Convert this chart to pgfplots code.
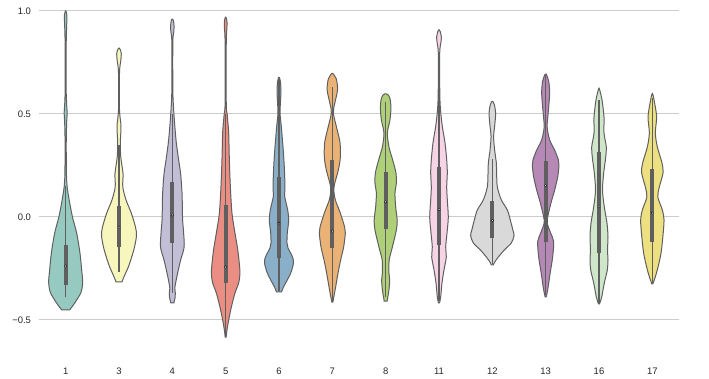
\documentclass[border=0pt]{standalone}
\usepackage{fontspec}
\setmainfont{Liberation Sans}
\usepackage{pgfplots}
\usepackage{pgfplotstable}
\pgfplotsset{compat=1.18}

\definecolor{c1}{RGB}{150,202,193}
\definecolor{c2}{RGB}{246,246,189}
\definecolor{c3}{RGB}{193,190,214}
\definecolor{c4}{RGB}{234,142,131}
\definecolor{c5}{RGB}{138,175,201}
\definecolor{c6}{RGB}{234,179,117}
\definecolor{c7}{RGB}{175,207,120}
\definecolor{c8}{RGB}{246,211,229}
\definecolor{c9}{RGB}{217,217,217}
\definecolor{c10}{RGB}{181,136,182}
\definecolor{c11}{RGB}{207,230,202}
\definecolor{c12}{RGB}{237,224,129}
\definecolor{vgray}{RGB}{95,95,95}
\definecolor{gridgray}{RGB}{204,204,204}
\definecolor{labgray}{RGB}{38,38,38}

% violin profiles: y value, half-width (in pixels of the reference, 53.33 px = 1 category)
\pgfplotstableread{
y w
-0.451 4
-0.425 8
-0.403 11
-0.364 15.5
-0.316 17
-0.257 16
-0.175 14.3
-0.078 11
0.0 6.8
0.083 3.5
0.146 1.5
0.204 0.8
0.300 0.6
0.374 0.6
0.46 1.0
0.505 1.5
0.544 1.0
0.62 0.5
0.80 0.5
0.86 0.6
0.93 1.0
0.975 1.3
1.0 0.3
}\vA
\pgfplotstableread{
y w
-0.315 3
-0.29 5
-0.243 9.3
-0.194 12.7
-0.146 15.5
-0.09 17.5
-0.049 16.5
0.019 12.3
0.083 7
0.146 3.8
0.21 4
0.29 1.8
0.36 1.3
0.44 2
0.52 0.5
0.70 0.5
0.76 1.8
0.79 2.3
0.81 1.5
0.82 0.3
}\vB
\pgfplotstableread{
y w
-0.417 1.5
-0.39 2.8
-0.369 3
-0.345 2.5
-0.32 3.3
-0.272 5.3
-0.209 8.3
-0.146 11.8
-0.078 11.3
-0.015 10.3
0.05 10
0.116 9.7
0.21 8.3
0.277 6.3
0.36 4
0.44 2.5
0.53 1.2
0.62 0.5
0.85 0.5
0.90 1.5
0.93 1.7
0.955 1.0
0.96 0.3
}\vC
\pgfplotstableread{
y w
-0.583 0.5
-0.549 1.3
-0.5 3
-0.437 5.7
-0.369 9.3
-0.32 13
-0.272 14.3
-0.209 13.3
-0.146 11.7
-0.078 9.3
0.019 6.3
0.146 4.7
0.277 3.7
0.41 3
0.47 2
0.5 1.5
0.55 0.6
0.85 0.6
0.92 1.3
0.95 1.3
0.97 0.3
}\vD
\pgfplotstableread{
y w
-0.364 2.5
-0.34 4.5
-0.32 6.7
-0.272 11.7
-0.223 14.5
-0.194 13.5
-0.15 9
-0.126 8
-0.078 8.3
-0.015 9.7
0.034 8.7
0.1 5.7
0.146 6
0.243 5.3
0.34 4
0.44 2.3
0.505 1.0
0.56 1.5
0.617 2
0.66 1.3
0.678 0.3
}\vE
\pgfplotstableread{
y w
-0.413 0.5
-0.393 1.3
-0.34 3.3
-0.272 5.7
-0.209 8.3
-0.146 11.3
-0.078 13
-0.049 12.3
0.019 8
0.083 3
0.131 1.5
0.165 2.5
0.228 6
0.29 8
0.36 7.7
0.42 5
0.505 1.0
0.553 2.5
0.617 5.2
0.67 4
0.697 0.5
}\vF
\pgfplotstableread{
y w
-0.408 1.5
-0.393 2
-0.354 3.3
-0.306 4
-0.272 3.3
-0.209 3.5
-0.146 6.7
-0.063 10.7
-0.015 11.5
0.049 10
0.116 9.3
0.165 10.7
0.214 10.3
0.277 7
0.34 3.3
0.408 1.7
0.471 4.3
0.534 5.3
0.575 4.3
0.592 2.6
0.598 0.8
}\vG
\pgfplotstableread{
y w
-0.417 0.5
-0.388 1.7
-0.32 3
-0.257 5
-0.194 7.3
-0.146 6.7
-0.063 8.3
0.0 9.3
0.083 8.3
0.146 7.7
0.214 8.3
0.277 7.7
0.36 6
0.44 3.3
0.52 1.5
0.6 0.8
0.795 0.7
0.85 2.0
0.875 2.3
0.9 1.2
0.908 0.3
}\vH
\pgfplotstableread{
y w
-0.233 1
-0.218 2.5
-0.194 6
-0.16 12
-0.126 19
-0.09 21.7
-0.063 20.5
-0.015 18
0.034 15
0.083 9
0.146 5
0.214 4.3
0.262 4
0.325 2.3
0.39 1.3
0.45 2.5
0.505 3.3
0.545 2
0.56 0.5
}\vI
\pgfplotstableread{
y w
-0.388 0.5
-0.354 2
-0.272 4.5
-0.194 7
-0.12 8
-0.078 5
-0.03 1.5
0.0 2
0.068 5.3
0.131 9
0.194 12
0.25 13.3
0.277 12.7
0.325 9
0.374 4
0.437 1.5
0.505 2.5
0.6 4
0.66 3
0.694 0.5
}\vJ
\pgfplotstableread{
y w
-0.422 0.5
-0.388 2.7
-0.32 5.3
-0.257 8.3
-0.209 9
-0.16 8.5
-0.097 9
-0.03 8
0.049 5.3
0.131 3.5
0.214 4.7
0.29 6.7
0.34 7.3
0.408 5
0.485 5
0.568 3
0.62 0.5
}\vK
\pgfplotstableread{
y w
-0.325 0.5
-0.29 3
-0.243 5.7
-0.175 8.7
-0.097 10.5
-0.015 11.7
0.034 10
0.097 5.5
0.146 7
0.214 10.7
0.262 9.7
0.34 5
0.408 3
0.485 4.3
0.553 2.3
0.595 0.5
}\vL

% turn a half profile into a closed outline: right side upwards, left side downwards
\newcommand\mkloop[1]{%
  \pgfplotstablesort[sort key=y, sort cmp=float >]{\tmprev}{#1}%
  \pgfplotstablecreatecol[expr={1}]{s}{#1}%
  \pgfplotstablecreatecol[expr={-1}]{s}{\tmprev}%
  \pgfplotstablevertcat{#1}{\tmprev}%
}
\mkloop{\vA}\mkloop{\vB}\mkloop{\vC}\mkloop{\vD}\mkloop{\vE}\mkloop{\vF}
\mkloop{\vG}\mkloop{\vH}\mkloop{\vI}\mkloop{\vJ}\mkloop{\vK}\mkloop{\vL}

% #1 position, #2 profile, #3 colour, #4 lower whisker, #5 Q1, #6 median, #7 Q3, #8 upper whisker
\newcommand\violin[8]{%
  \addplot[fill=#3, draw=vgray, line width=1bp, smooth, no marks] table[x expr=#1+\thisrow{s}*\thisrow{w}/53.33, y=y] {#2} -- cycle;
  \addplot[vgray, line width=1.1bp, no marks] coordinates {(#1,#4) (#1,#8)};
  \addplot[vgray, line width=4bp, no marks] coordinates {(#1,#5) (#1,#7)};
  \addplot[only marks, mark=*, mark size=1.2bp, mark options={fill=white, draw=none}] coordinates {(#1,#6)};
}

\begin{document}
\begin{tikzpicture}
\begin{axis}[
  scale only axis, width=640bp, height=359.06bp,
  xmin=-0.5, xmax=11.5, ymin=-0.69, ymax=1.053,
  axis line style={draw=none},
  major tick length=0,
  xtick={0,...,11}, xticklabels={1,3,4,5,6,7,8,11,12,13,16,17},
  ytick={-0.5,0,0.5,1}, yticklabels={−0.5,0.0,0.5,1.0},
  ymajorgrids, grid style={color=gridgray, line width=1bp},
  tick label style={font=\fontsize{9.5}{11}\selectfont, text=labgray},
  xticklabel style={yshift=-5bp},
  yticklabel style={xshift=-4.5bp},
]
\violin{0}{\vA}{c1}{-0.39}{-0.33}{-0.238}{-0.136}{0.15}
\violin{1}{\vB}{c2}{-0.267}{-0.146}{-0.049}{0.055}{0.35}
\violin{2}{\vC}{c3}{-0.37}{-0.126}{0.01}{0.168}{0.5}
\violin{3}{\vD}{c4}{-0.58}{-0.32}{-0.243}{0.058}{0.5}
\violin{4}{\vE}{c5}{-0.36}{-0.2}{-0.03}{0.192}{0.67}
\violin{5}{\vF}{c6}{-0.41}{-0.15}{-0.068}{0.278}{0.63}
\violin{6}{\vG}{c7}{-0.39}{-0.058}{0.073}{0.218}{0.56}
\violin{7}{\vH}{c8}{-0.41}{-0.136}{0.036}{0.243}{0.78}
\violin{8}{\vI}{c9}{-0.23}{-0.1}{-0.017}{0.08}{0.28}
\violin{9}{\vJ}{c10}{-0.38}{-0.123}{0.152}{0.272}{0.69}
\violin{10}{\vK}{c11}{-0.42}{-0.175}{0.049}{0.316}{0.57}
\violin{11}{\vL}{c12}{-0.32}{-0.121}{0.019}{0.233}{0.58}
\end{axis}
\pgfresetboundingbox
\path[use as bounding box] (current axis.south west) ++(-39bp,-19.86bp) rectangle ++(709bp,379bp);
\end{tikzpicture}
\end{document}
